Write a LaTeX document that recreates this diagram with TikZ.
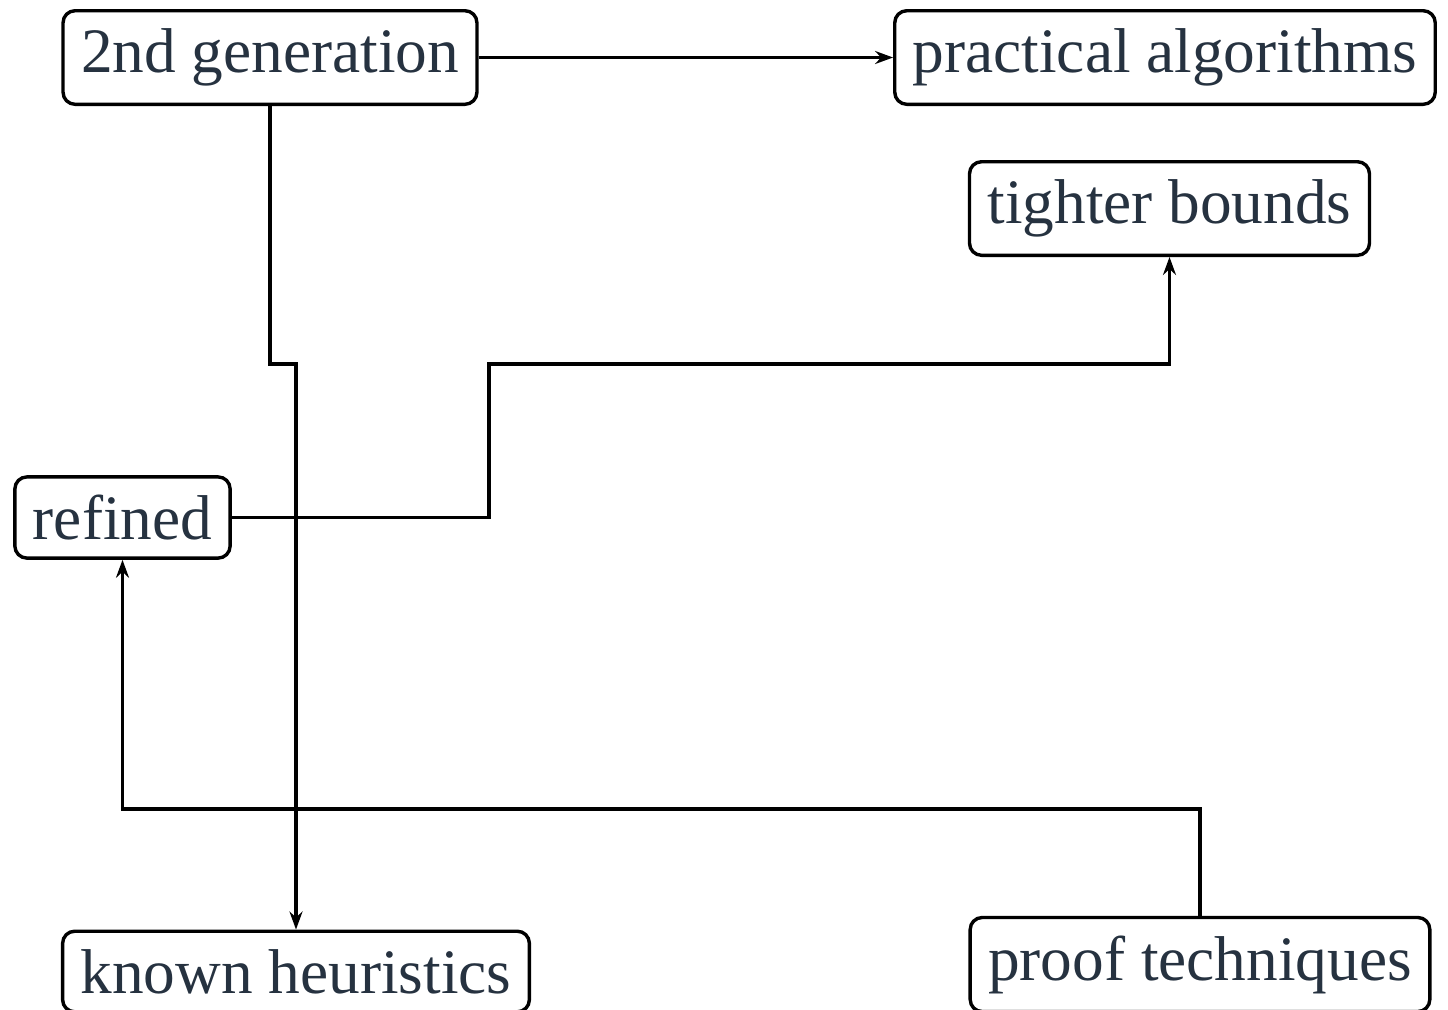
\documentclass[tikz,border=0pt]{standalone}
\usepackage{fontspec}
\setmainfont{Liberation Serif}
\usetikzlibrary{arrows.meta}
\definecolor{txt}{RGB}{38,50,64}
\tikzset{
  box/.style={draw=black, line width=1.7pt, rounded corners=6pt, inner sep=9pt,
    text=txt, font=\fontsize{31.65}{38}\selectfont, fill=white},
  conn/.style={draw=black, line width=1.6pt},
  arr/.style={conn, -{Stealth[length=9pt,width=6.5pt,inset=3pt]}}
}
\begin{document}
\begin{tikzpicture}[x=0.5pt,y=-0.5pt]
\useasboundingbox (0,0) rectangle (1448,1009);
\fill[white] (0,0) rectangle (1448,1009);
\node[box] (g) at (270,57.5) {2nd generation};
\node[box] (pa) at (1165,57.5) {practical algorithms};
\node[box] (t) at (1169.5,208.5) {tighter bounds};
\node[box] (r) at (122.5,517.5) {refined};
\node[box] (k) at (296,971.5) {known heuristics};
\node[box] (p) at (1200,964.5) {proof techniques};
\coordinate (y1) at (0,364);
\coordinate (x2) at (489,0);
\coordinate (y4) at (0,809);
\draw[arr] (g.east) -- (pa.west);
\draw[arr] (g.south) -- (g.south |- y1) -| (k.north);
\draw[arr] (r.east) -- (r.east -| x2) -- (x2 |- y1) -| (t.south);
\draw[arr] (p.north) -- (p.north |- y4) -| (r.south);
\end{tikzpicture}
\end{document}
